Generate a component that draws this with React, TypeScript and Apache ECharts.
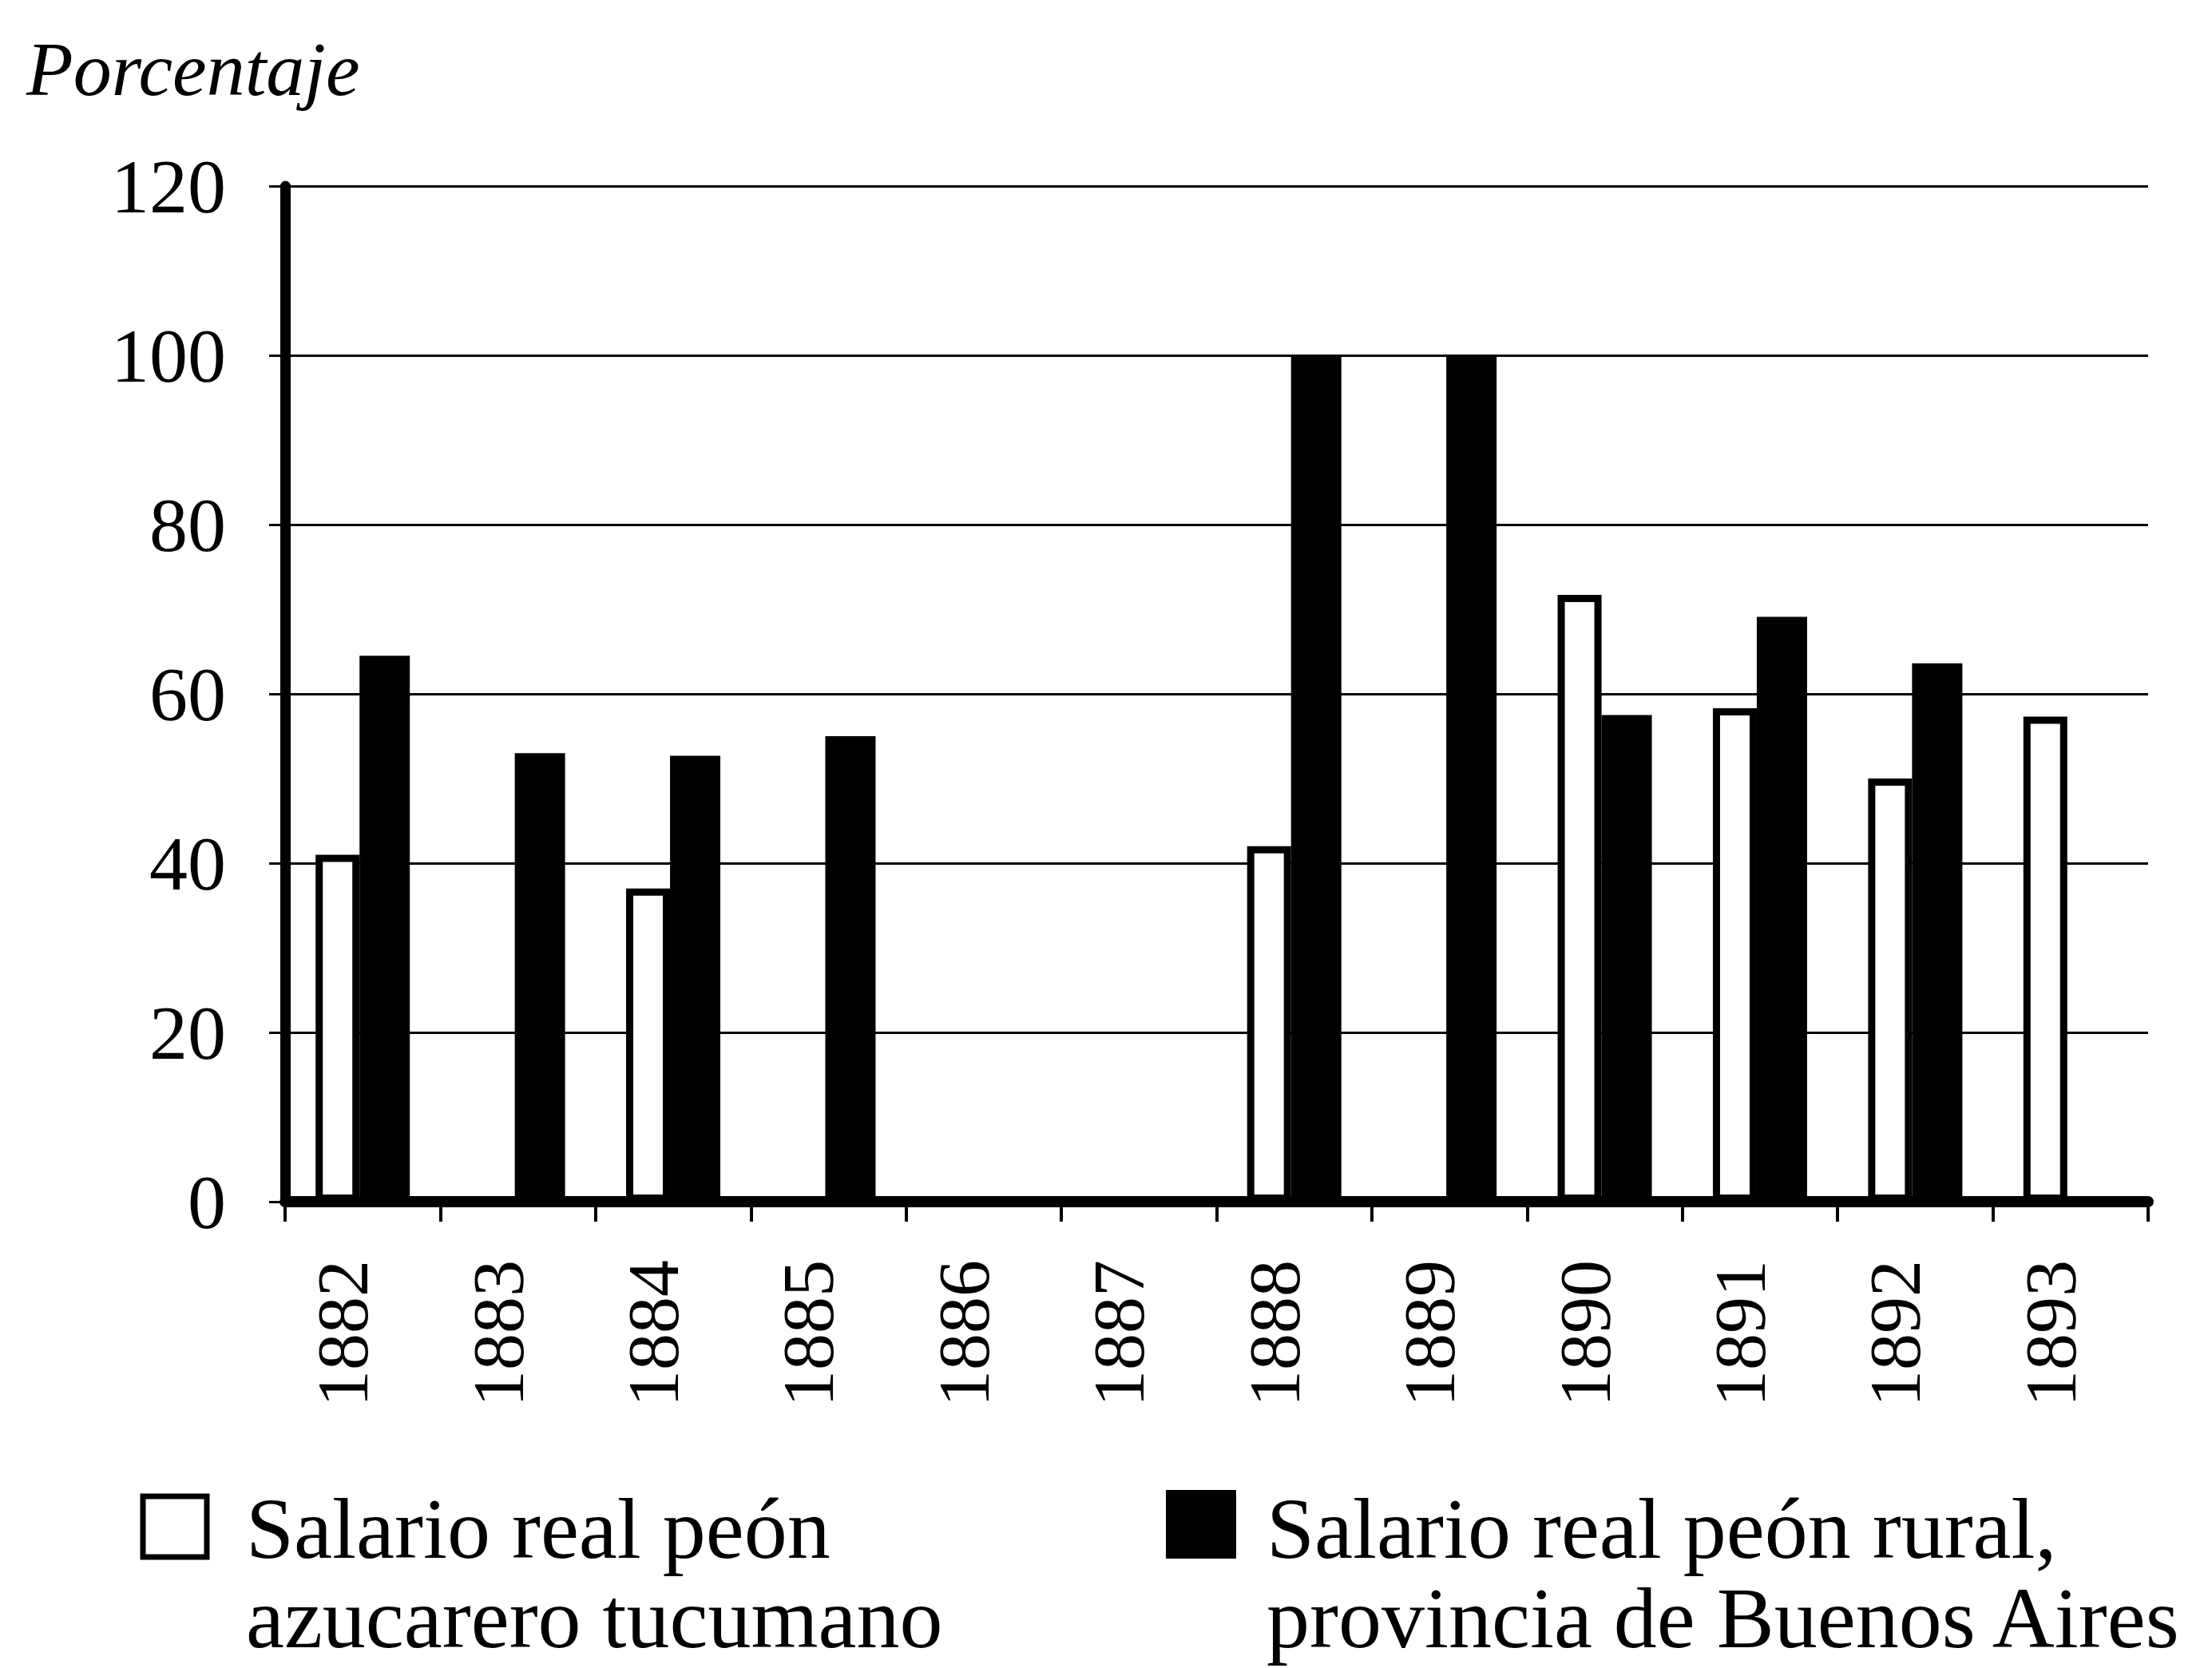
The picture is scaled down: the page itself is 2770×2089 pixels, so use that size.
import React, { useEffect, useRef } from "react";
import * as echarts from "echarts";

const years = ["1882", "1883", "1884", "1885", "1886", "1887", "1888", "1889", "1890", "1891", "1892", "1893"];
const tucumano = [41, null, 37, null, null, null, 42, null, 71.7, 58.3, 50, 57.3];
const buenosAires = [64.5, 53, 52.7, 55, null, null, 100, 100, 57.5, 69.1, 63.6, null];
const yMin = 0;
const yMax = 120;
const yStep = 20;
const axisTitle = "Porcentaje";
const legendTucumano = ["Salario real peón", "azucarero tucumano"];
const legendBuenosAires = ["Salario real peón rural,", "provincia de Buenos Aires"];
const seriesNames = [legendTucumano.join(" "), legendBuenosAires.join(" ")];

const FONT = '"Liberation Serif", "DejaVu Serif", serif';

export default function App() {
  const ref = useRef<HTMLDivElement>(null);
  useEffect(() => {
    document.body.style.margin = "0";
    const chart = echarts.init(ref.current!, null, { renderer: "svg" });
    const legendText = (x: number, y: number, lines: string[]) => ({
      type: "text",
      x,
      y,
      style: {
        text: lines.join("\n"),
        fill: "#000",
        fontSize: 108,
        lineHeight: 112,
        fontFamily: FONT,
        align: "left",
        verticalAlign: "top",
      },
    });
    chart.setOption({
      animation: false,
      backgroundColor: "#fff",
      grid: { left: 357, right: 80, top: 233, bottom: 584, containLabel: false },
      xAxis: {
        type: "category",
        data: years,
        boundaryGap: true,
        axisLine: { show: true, lineStyle: { color: "#000", width: 14 } },
        axisTick: { show: true, length: 25, lineStyle: { color: "#000", width: 4 } },
        axisLabel: {
          rotate: 90,
          fontSize: 92,
          fontFamily: FONT,
          color: "#000",
          margin: 73,
          verticalAlign: "bottom",
          lineHeight: 50,
        },
        splitLine: { show: false },
      },
      yAxis: {
        type: "value",
        min: yMin,
        max: yMax,
        interval: yStep,
        axisLine: { show: true, lineStyle: { color: "#000", width: 13 } },
        axisTick: { show: true, length: 20, lineStyle: { color: "#000", width: 3 } },
        axisLabel: { fontSize: 96, fontFamily: FONT, color: "#000", margin: 74 },
        splitLine: { show: true, lineStyle: { color: "#000", width: 3 } },
      },
      series: [
        {
          name: seriesNames[0],
          type: "bar",
          data: tucumano,
          barWidth: 55,
          barGap: "0%",
          itemStyle: { color: "#fff", borderColor: "#000", borderWidth: 9 },
        },
        {
          name: seriesNames[1],
          type: "bar",
          data: buenosAires,
          barWidth: 63,
          barGap: "0%",
          itemStyle: { color: "#000" },
        },
      ],
      graphic: [
        {
          type: "text",
          x: 33,
          y: 86,
          style: {
            text: axisTitle,
            fill: "#000",
            fontSize: 96,
            fontStyle: "italic",
            fontFamily: FONT,
            align: "left",
            verticalAlign: "middle",
          },
        },
        {
          type: "rect",
          shape: { x: 179, y: 1874, width: 80, height: 76 },
          style: { fill: "#fff", stroke: "#000", lineWidth: 7 },
        },
        legendText(308, 1858, legendTucumano),
        {
          type: "rect",
          shape: { x: 1460, y: 1866, width: 88, height: 86 },
          style: { fill: "#000" },
        },
        legendText(1586, 1858, legendBuenosAires),
      ],
    });
    return () => chart.dispose();
  }, []);
  return <div ref={ref} style={{ width: 2770, height: 2089 }} />;
}
